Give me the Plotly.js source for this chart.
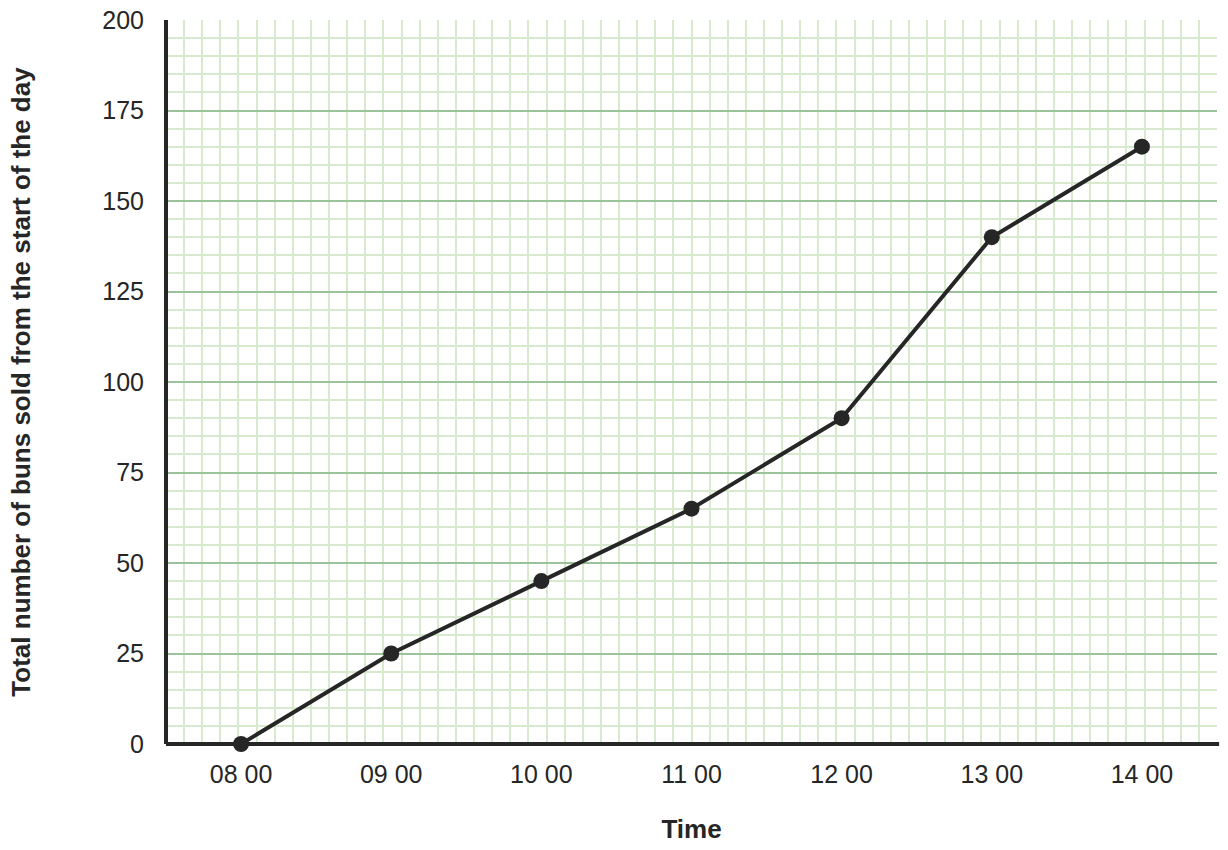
<!DOCTYPE html>
<html>
<head>
<meta charset="utf-8">
<script src="https://cdn.plot.ly/plotly-3.0.1.min.js"></script>
<style>html,body{margin:0;padding:0;background:#fff;}#chart{width:1228px;height:850px;}</style>
</head>
<body>
<div id="chart"></div>
<script>
const timeLabels = ["08 00", "09 00", "10 00", "11 00", "12 00", "13 00", "14 00"];
const bunsSold = [0, 25, 45, 65, 90, 140, 165];
const yTicks = [0, 25, 50, 75, 100, 125, 150, 175, 200];

const xIdx = timeLabels.map((_, i) => i);

const trace = {
  x: xIdx,
  y: bunsSold,
  type: 'scatter',
  mode: 'lines+markers',
  line: {color: '#262626', width: 4},
  marker: {color: '#262626', size: 16},
  cliponaxis: false,
  hoverinfo: 'skip'
};

const layout = {
  width: 1228,
  height: 850,
  margin: {l: 166, r: 11, t: 20, b: 106},
  paper_bgcolor: '#ffffff',
  plot_bgcolor: '#ffffff',
  showlegend: false,
  font: {family: 'Liberation Sans, Arial, sans-serif', color: '#262626'},
  shapes: [
    {type: 'line', xref: 'paper', yref: 'paper', x0: 0, x1: 0, y0: 0, y1: 1,
     line: {color: '#262626', width: 4}, layer: 'above'},
    {type: 'line', xref: 'paper', yref: 'paper', x0: 0, x1: 1.002, y0: 0, y1: 0,
     line: {color: '#262626', width: 4}, layer: 'above'}
  ],
  xaxis: {
    range: [-0.5, 6.5],
    tickvals: xIdx,
    ticktext: timeLabels,
    tickfont: {size: 25, color: '#262626'},
    ticks: 'outside',
    ticklen: 8,
    tickcolor: 'rgba(0,0,0,0)',
    showgrid: false,
    zeroline: false,
    showline: false,
    fixedrange: true,
    minor: {
      tick0: -0.5,
      dtick: 7 / 58,
      showgrid: true,
      gridcolor: '#d8eacd',
      gridwidth: 2,
      ticks: ''
    },
    title: {text: '<b>Time</b>', font: {size: 26, color: '#262626'}, standoff: 32}
  },
  yaxis: {
    range: [0, 200],
    tickvals: yTicks,
    tickfont: {size: 25, color: '#262626'},
    ticks: 'outside',
    ticklen: 16,
    tickcolor: 'rgba(0,0,0,0)',
    showgrid: true,
    gridcolor: '#9bc29a',
    gridwidth: 2,
    zeroline: false,
    showline: false,
    fixedrange: true,
    minor: {
      dtick: 5,
      showgrid: true,
      gridcolor: '#d8eacd',
      gridwidth: 2,
      ticks: ''
    },
    title: {text: '<b>Total number of buns sold from the start of the day</b>', font: {size: 26, color: '#262626'}, standoff: 64}
  }
};

Plotly.newPlot('chart', [trace], layout, {staticPlot: true, displayModeBar: false});
</script>
</body>
</html>
